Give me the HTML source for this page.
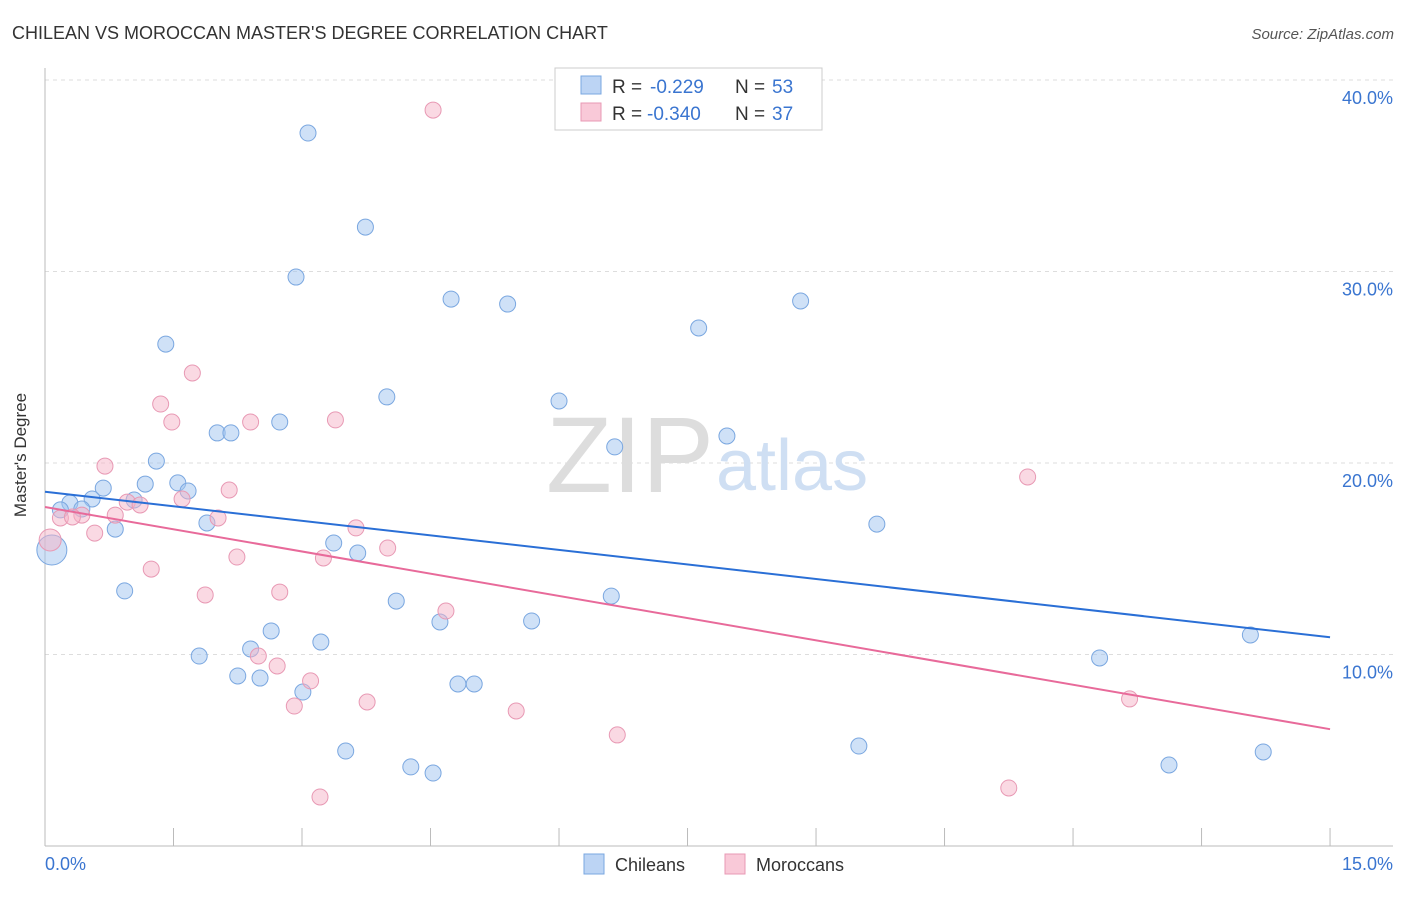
<!DOCTYPE html>
<html><head><meta charset="utf-8">
<style>
body{margin:0;background:#fff;font-family:"Liberation Sans",sans-serif;}
svg text{font-family:"Liberation Sans",sans-serif;}
</style></head>
<body>
<svg id="chart" width="1406" height="892" xmlns="http://www.w3.org/2000/svg">
<text x="12" y="39" font-size="18" fill="#333">CHILEAN VS MOROCCAN MASTER'S DEGREE CORRELATION CHART</text>
<text x="1394" y="39" font-size="15" fill="#555" text-anchor="end" font-style="italic">Source: ZipAtlas.com</text>
<g id="grid"></g>
<text x="714" y="492" font-size="108" fill="#ddd" text-anchor="end" font-family="Liberation Serif">ZIP</text>
<text x="716" y="490" font-size="72" fill="#cfdff3">atlas</text>
<g id="marks"></g>
<text x="26" y="455" font-size="17" fill="#333" text-anchor="middle" transform="rotate(-90 26 455)">Master's Degree</text>
<text x="45" y="870" font-size="18" fill="#3a75d0">0.0%</text>
<text x="1393" y="870" font-size="18" fill="#3a75d0" text-anchor="end">15.0%</text>
<g>
<rect x="555" y="68" width="267" height="62" fill="#fff" stroke="#ccc"/>
<rect x="581" y="76" width="20" height="18" fill="#bcd4f4" stroke="#7aa7e0"/>
<rect x="581" y="103" width="20" height="18" fill="#f9c9d8" stroke="#e899b4"/>
<text x="612" y="93" font-size="19" fill="#333">R =</text>
<text x="650" y="93" font-size="19" fill="#3a75d0">-0.229</text>
<text x="735" y="93" font-size="19" fill="#333">N =</text>
<text x="772" y="93" font-size="19" fill="#3a75d0">53</text>
<text x="612" y="120" font-size="19" fill="#333">R =</text>
<text x="647" y="120" font-size="19" fill="#3a75d0">-0.340</text>
<text x="735" y="120" font-size="19" fill="#333">N =</text>
<text x="772" y="120" font-size="19" fill="#3a75d0">37</text>
</g>
<g>
<rect x="584" y="854" width="20" height="20" fill="#bcd4f4" stroke="#7aa7e0"/>
<text x="615" y="871" font-size="18" fill="#333">Chileans</text>
<rect x="725" y="854" width="20" height="20" fill="#f9c9d8" stroke="#e899b4"/>
<text x="756" y="871" font-size="18" fill="#333">Moroccans</text>
</g>
</svg>
<script>
const yTicks=[10,20,30,40];
const yTickLabels=["10.0%","20.0%","30.0%","40.0%"];
const blueX=[3.07,3.74,2.93,4.74,5.40,8.82,7.63,1.41,3.99,6.00,2.01,2.17,2.74,7.96,6.65,1.30,1.55,1.17,1.67,0.68,0.55,0.29,0.43,0.18,1.04,0.82,1.89,9.71,3.37,3.65,0.08,0.93,4.10,6.61,4.61,5.68,2.64,3.22,2.40,1.80,14.07,12.31,2.25,2.51,4.82,5.01,3.01,3.51,9.50,4.27,4.53,13.12,14.22];
const blueY=[37.23,32.32,29.71,28.56,28.30,28.46,27.05,26.21,23.45,23.24,21.57,21.57,22.14,21.41,20.84,20.10,18.96,18.90,18.54,18.69,18.12,17.91,17.60,17.55,18.07,16.55,16.87,16.81,15.82,15.30,15.46,13.32,12.79,13.05,11.70,11.75,11.23,10.65,10.29,9.92,11.02,9.82,8.88,8.77,8.46,8.46,8.04,4.96,5.22,4.13,3.81,4.23,4.91];
const pinkX=[4.53,1.72,1.35,1.48,2.40,3.39,0.70,11.47,2.15,1.60,0.96,1.11,0.82,0.43,0.18,0.32,2.02,3.63,0.58,0.06,4.00,2.24,3.25,1.24,1.87,2.74,4.68,2.49,2.71,3.10,2.91,3.76,5.50,12.66,6.68,3.21,11.25];
const pinkY=[38.43,24.70,23.08,22.14,22.14,22.25,19.84,19.27,18.59,18.12,17.96,17.81,17.28,17.28,17.13,17.18,17.13,16.61,16.34,15.98,15.56,15.09,15.04,14.46,13.11,13.26,12.27,9.92,9.40,8.62,7.31,7.52,7.05,7.68,5.80,2.56,3.03];
const blueTrend=[18.5,10.9];
const pinkTrend=[17.7,6.1];
const NS="http://www.w3.org/2000/svg";
const sx=v=>45+v*85.67, sy=v=>846-v*19.15;
function mk(t,a,p){const e=document.createElementNS(NS,t);for(const k in a)e.setAttribute(k,a[k]);p.appendChild(e);return e;}
const grid=document.getElementById('grid'), marks=document.getElementById('marks');
yTicks.forEach((t,i)=>{
 const l=mk('line',{x1:45,x2:1393,y1:sy(t),y2:sy(t),stroke:'#ddd','stroke-dasharray':'4,4'},grid);
 
 
 const tx=mk('text',{x:1393,y:sy(t)+24,'font-size':18,fill:'#3a75d0','text-anchor':'end'},grid);
 tx.textContent=yTickLabels[i];
 
 
});
mk('line',{x1:45,x2:45,y1:68,y2:846,stroke:'#bbb'},grid);
mk('line',{x1:45,x2:1393,y1:846,y2:846,stroke:'#bbb'},grid);
for(let i=0;i<=10;i++){
 const t=mk('line',{x1:sx(i*1.5),x2:sx(i*1.5),y1:828,y2:846,stroke:'#bbb'},grid);
 
 
}
blueX.forEach((x,i)=>{
 const c=mk('circle',{cx:sx(x),cy:sy(blueY[i]),r:(i==30?15:8),fill:'rgba(160,196,240,0.5)',stroke:'#7aa7e0','stroke-width':1},marks);
 
 
});
pinkX.forEach((x,i)=>{
 const c=mk('circle',{cx:sx(x),cy:sy(pinkY[i]),r:(i==19?11:8),fill:'rgba(245,180,200,0.5)',stroke:'#e899b4','stroke-width':1},marks);
 
 
});
const bl=mk('line',{x1:sx(0),y1:sy(blueTrend[0]),x2:sx(15),y2:sy(blueTrend[1]),stroke:'#2a6fd6','stroke-width':2},marks);


const pl=mk('line',{x1:sx(0),y1:sy(pinkTrend[0]),x2:sx(15),y2:sy(pinkTrend[1]),stroke:'#e86a9a','stroke-width':2},marks);


</script>
</body></html>
